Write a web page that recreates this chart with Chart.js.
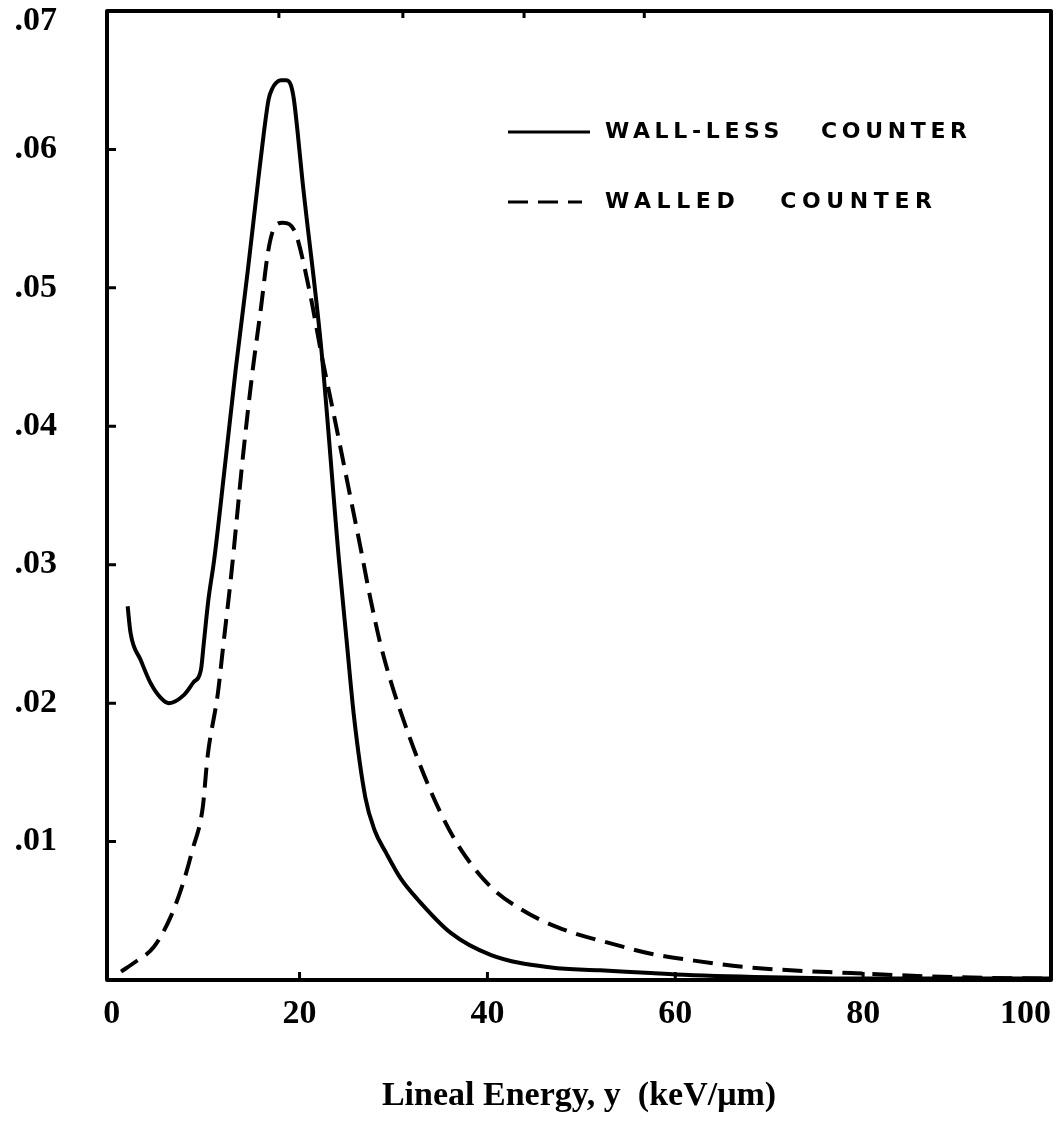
<!DOCTYPE html>
<html>
<head>
<meta charset="utf-8">
<script src="https://cdn.jsdelivr.net/npm/chart.js@4.4.1/dist/chart.umd.min.js"></script>
<style>
  html, body { margin: 0; padding: 0; background: #fff; }
  canvas { display: block; }
</style>
</head>
<body>
<canvas id="spectrumChart" width="1064" height="1123"></canvas>
<script>
// Lineal energy spectra, y in keV/um vs frequency
const wallLessEnergy = [1.7, 2.0, 3.1, 4.1, 5.2, 6.1, 7.7, 8.7, 9.5, 9.8, 10.3, 10.9, 12.0, 13.2, 14.5, 15.6, 16.2, 16.7, 17.1, 17.5, 18.0, 18.6, 19.1, 19.4, 19.8, 20.3, 22.3, 24.2, 25.0, 25.8, 27.0, 28.0, 29.2, 30.8, 32.6, 36.1, 40.4, 46.8, 52.0, 57.4, 60, 70, 80, 90, 100];
const wallLessFreq = [0.0270, 0.0251, 0.0231, 0.0215, 0.0204, 0.0200, 0.0206, 0.0215, 0.0224, 0.0243, 0.0275, 0.0303, 0.0368, 0.0441, 0.0513, 0.0578, 0.0612, 0.0636, 0.0644, 0.0648, 0.0650, 0.0650, 0.0646, 0.0636, 0.0612, 0.0578, 0.0457, 0.0303, 0.0246, 0.0190, 0.0132, 0.0108, 0.0092, 0.0073, 0.0058, 0.0034, 0.0018, 0.0009, 0.0007, 0.0005, 0.0004, 0.0002, 0.0001, 0.0001, 0.0001];

const walledEnergy = [1.0, 2.5, 4.5, 6.3, 7.6, 8.6, 9.7, 10.2, 11.3, 11.9, 12.7, 14.0, 15.0, 15.9, 16.6, 17.1, 17.6, 18.2, 18.9, 19.4, 19.8, 21.2, 22.3, 23.6, 25.2, 26.5, 27.5, 28.6, 29.7, 30.8, 32.9, 35.0, 37.2, 40.4, 43.6, 47.5, 53.9, 57.4, 62.0, 68.0, 78.7, 90, 100];
const walledFreq = [0.0006, 0.0013, 0.0024, 0.0046, 0.0070, 0.0094, 0.0125, 0.0161, 0.0207, 0.0243, 0.0291, 0.0380, 0.0440, 0.0486, 0.0524, 0.0540, 0.0546, 0.0547, 0.0546, 0.0542, 0.0535, 0.0493, 0.0453, 0.0410, 0.0356, 0.0312, 0.0277, 0.0243, 0.0216, 0.0193, 0.0154, 0.0121, 0.0094, 0.0067, 0.0051, 0.0038, 0.0025, 0.0019, 0.0014, 0.0009, 0.0005, 0.0002, 0.0001];

const xTicks = [0, 20, 40, 60, 80, 100];
const yTicks = [0.01, 0.02, 0.03, 0.04, 0.05, 0.06, 0.07];
// marks along the top edge of the frame
const topTickEnergy = [17.8, 31.0, 43.9, 56.7];

const seriesLabels = ['WALL-LESS   COUNTER', 'WALLED   COUNTER'];
const xTitle = 'Lineal Energy, y  (keV/\u03bcm)';

const toPoints = (xs, ys) => xs.map((x, i) => ({ x: x, y: ys[i] }));
const fmtY = v => v.toFixed(2).replace(/^0/, '');

// box around the plot plus the short inward tick marks
const framePlugin = {
    id: 'frame',
    afterDatasetsDraw(chart) {
        const { ctx, chartArea: a, scales } = chart;
        ctx.save();
        ctx.strokeStyle = '#000';
        ctx.lineWidth = 4;
        ctx.lineJoin = 'round';
        ctx.strokeRect(a.left, a.top, a.right - a.left, a.bottom - a.top);
        ctx.lineWidth = 3;
        ctx.beginPath();
        xTicks.slice(1, -1).forEach(v => {
            const px = scales.x.getPixelForValue(v);
            ctx.moveTo(px, a.bottom);
            ctx.lineTo(px, a.bottom - 8);
        });
        topTickEnergy.forEach(v => {
            const px = scales.x.getPixelForValue(v);
            ctx.moveTo(px, a.top);
            ctx.lineTo(px, a.top + 7);
        });
        yTicks.slice(0, -1).forEach(v => {
            const py = scales.y.getPixelForValue(v);
            ctx.moveTo(a.left, py);
            ctx.lineTo(a.left + 9, py);
        });
        ctx.stroke();
        ctx.restore();
    }
};

// legend drawn inside the plot, upper right
const legendPlugin = {
    id: 'insideLegend',
    afterDraw(chart) {
        const { ctx, chartArea: a } = chart;
        const rows = [
            { dy: 121, lineEnd: 483, width: 362 },
            { dy: 191, lineEnd: 475, width: 327 }
        ];
        ctx.save();
        ctx.fillStyle = '#000';
        ctx.font = 'bold 22px "DejaVu Sans"';
        ctx.textBaseline = 'middle';
        chart.data.datasets.forEach((ds, i) => {
            const r = rows[i];
            const yy = a.top + r.dy;
            ctx.strokeStyle = '#000';
            ctx.lineWidth = 3;
            ctx.setLineDash(ds.borderDash || []);
            ctx.beginPath();
            ctx.moveTo(a.left + 401, yy);
            ctx.lineTo(a.left + r.lineEnd, yy);
            ctx.stroke();
            ctx.setLineDash([]);
            const label = ds.label;
            ctx.letterSpacing = '0px';
            const w = ctx.measureText(label).width;
            const sp = (r.width - w) / (label.length - 1);
            ctx.letterSpacing = sp.toFixed(2) + 'px';
            ctx.fillText(label, a.left + 498, yy);
        });
        ctx.restore();
    }
};

const chart = new Chart(document.getElementById('spectrumChart').getContext('2d'), {
    type: 'line',
    data: {
        datasets: [{
            label: seriesLabels[0],
            data: toPoints(wallLessEnergy, wallLessFreq),
            borderColor: '#000',
            borderWidth: 4,
            pointRadius: 0,
            cubicInterpolationMode: 'monotone',
            fill: false
        }, {
            label: seriesLabels[1],
            data: toPoints(walledEnergy, walledFreq),
            borderColor: '#000',
            borderWidth: 4,
            borderDash: [20, 10],
            pointRadius: 0,
            cubicInterpolationMode: 'monotone',
            fill: false
        }]
    },
    options: {
        responsive: false,
        devicePixelRatio: 1,
        animation: false,
        layout: { padding: { top: 11, right: 13, left: 0, bottom: 0 } },
        plugins: {
            legend: { display: false },
            tooltip: { enabled: false }
        },
        scales: {
            x: {
                type: 'linear',
                min: -0.5,
                max: 100,
                // blank tick at the left edge so only "100" gets pulled inward
                afterBuildTicks: scale => {
                    scale.ticks = [{ value: scale.min }].concat(xTicks.map(v => ({ value: v })));
                },
                afterFit: scale => {
                    scale.height = 143;
                    scale.paddingLeft = 0;
                    scale.paddingRight = 0;
                },
                grid: { display: false, drawTicks: false },
                border: { display: false },
                ticks: {
                    autoSkip: false,
                    maxRotation: 0,
                    align: 'inner',
                    padding: 14,
                    color: '#000',
                    font: { family: '"Liberation Serif"', size: 34, weight: 'bold' },
                    callback: v => xTicks.includes(v) ? String(v) : ''
                },
                title: {
                    display: true,
                    text: xTitle,
                    color: '#000',
                    padding: { top: 0, bottom: 6 },
                    font: { family: '"Liberation Serif"', size: 34, weight: 'bold' }
                }
            },
            y: {
                type: 'linear',
                min: 0,
                max: 0.07,
                afterBuildTicks: scale => {
                    scale.ticks = yTicks.map(v => ({ value: v }));
                },
                afterFit: scale => {
                    scale.width = 107;
                    scale.paddingTop = 0;
                    scale.paddingBottom = 0;
                },
                grid: { display: false, drawTicks: false },
                border: { display: false },
                ticks: {
                    padding: 50,
                    color: '#000',
                    font: { family: '"Liberation Serif"', size: 34, weight: 'bold', lineHeight: 0.6 },
                    // top label sits on a second line so it stays below the frame edge
                    callback: v => v === yTicks[yTicks.length - 1] ? ['', fmtY(v)] : fmtY(v)
                }
            }
        }
    },
    plugins: [framePlugin, legendPlugin]
});
</script>
</body>
</html>
